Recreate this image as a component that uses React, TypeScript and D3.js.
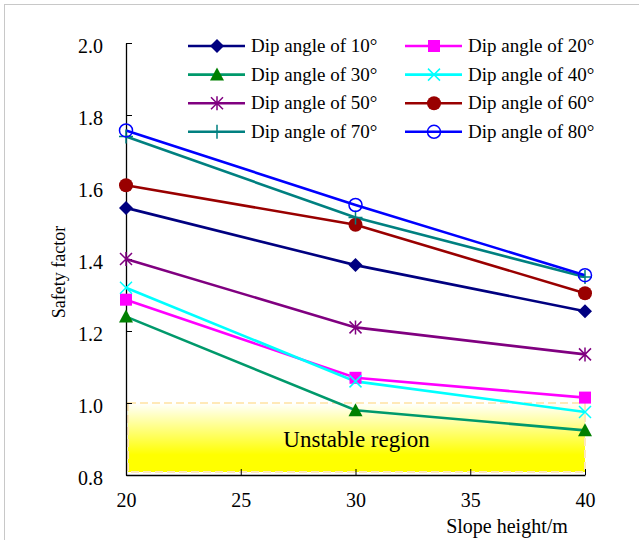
import * as d3 from 'd3'
import { useEffect, useRef } from 'react'

// slope heights (m)
const heights = [20, 30, 40]
const xTicks = [20, 25, 30, 35, 40]
const yTicks = [0.8, 1.0, 1.2, 1.4, 1.6, 1.8, 2.0]

const dip10 = [1.542, 1.383, 1.255]
const dip20 = [1.287, 1.07, 1.015]
const dip30 = [1.24, 0.98, 0.924]
const dip40 = [1.32, 1.06, 0.975]
const dip50 = [1.4, 1.21, 1.135]
const dip60 = [1.605, 1.495, 1.305]
const dip70 = [1.74, 1.515, 1.35]
const dip80 = [1.757, 1.55, 1.355]

const labels = [
  'Dip angle of 10°',
  'Dip angle of 20°',
  'Dip angle of 30°',
  'Dip angle of 40°',
  'Dip angle of 50°',
  'Dip angle of 60°',
  'Dip angle of 70°',
  'Dip angle of 80°',
]

type Series = { name: string; values: number[]; line: string; mark: string; shape: string }

const series: Series[] = [
  { name: labels[0], values: dip10, line: '#000080', mark: '#000080', shape: 'diamond' },
  { name: labels[1], values: dip20, line: '#FF00FF', mark: '#FF00FF', shape: 'square' },
  { name: labels[2], values: dip30, line: '#00996B', mark: '#008000', shape: 'triangle' },
  { name: labels[3], values: dip40, line: '#00FFFF', mark: '#00FFFF', shape: 'x' },
  { name: labels[4], values: dip50, line: '#800080', mark: '#800080', shape: 'star' },
  { name: labels[5], values: dip60, line: '#990000', mark: '#990000', shape: 'circle' },
  { name: labels[6], values: dip70, line: '#008080', mark: '#008080', shape: 'plus' },
  { name: labels[7], values: dip80, line: '#0000FF', mark: '#0000FF', shape: 'ring' },
]

const FONT = "'Liberation Serif', 'Times New Roman', Times, serif"

const drawMarker = (g: any, shape: string, cx: number, cy: number, color: string) => {
  const m = g.append('g').attr('transform', `translate(${cx},${cy})`)
  if (shape === 'diamond') {
    m.append('path').attr('d', 'M0,-7L7,0L0,7L-7,0Z').attr('fill', color)
  } else if (shape === 'square') {
    m.append('rect').attr('x', -6).attr('y', -6).attr('width', 12).attr('height', 12).attr('fill', color)
  } else if (shape === 'triangle') {
    m.append('path').attr('d', 'M0,-7L7,6L-7,6Z').attr('fill', color)
  } else if (shape === 'circle') {
    m.append('circle').attr('r', 7).attr('fill', color)
  } else if (shape === 'ring') {
    m.append('circle').attr('r', 6.5).attr('fill', 'none').attr('stroke', color).attr('stroke-width', 1.5)
  } else if (shape === 'x') {
    m.append('path').attr('d', 'M-6,-6L6,6M-6,6L6,-6').attr('stroke', color).attr('stroke-width', 1.5)
  } else if (shape === 'star') {
    m.append('path')
      .attr('d', 'M-6,-6L6,6M-6,6L6,-6M0,-7L0,7')
      .attr('stroke', color)
      .attr('stroke-width', 1.5)
  } else if (shape === 'plus') {
    m.append('path').attr('d', 'M0,-7L0,7M-7,0L7,0').attr('stroke', color).attr('stroke-width', 1.5)
  }
}

const App = () => {
  const ref = useRef<SVGSVGElement>(null)

  useEffect(() => {
    document.body.style.margin = '0'
    const svg = d3.select(ref.current)
    svg.selectAll('*').remove()

    const x = d3.scaleLinear().domain([20, 40]).range([126, 585])
    const y = d3.scaleLinear().domain([0.8, 2.0]).range([475, 43])

    // outer frame
    svg
      .append('rect')
      .attr('x', 4.5)
      .attr('y', 4.5)
      .attr('width', 700)
      .attr('height', 600)
      .attr('fill', 'none')
      .attr('stroke', '#c8c8c8')

    // unstable region
    const defs = svg.append('defs')
    const grad = defs
      .append('linearGradient')
      .attr('id', 'unstable')
      .attr('x1', 0)
      .attr('y1', 0)
      .attr('x2', 0)
      .attr('y2', 1)
    grad.append('stop').attr('offset', '0%').attr('stop-color', '#FFFFFF')
    grad.append('stop').attr('offset', '75%').attr('stop-color', '#FFFF00')
    grad.append('stop').attr('offset', '100%').attr('stop-color', '#FFFF00')

    svg
      .append('rect')
      .attr('x', x(20) + 2)
      .attr('y', y(1.0))
      .attr('width', x(40) - x(20) - 2)
      .attr('height', y(0.8) - y(1.0) - 3)
      .attr('fill', 'url(#unstable)')
      .attr('stroke', '#FFE9B8')
      .attr('stroke-width', 2)
      .attr('stroke-dasharray', '8,4')

    svg
      .append('text')
      .attr('x', x(30) + 1)
      .attr('y', y(0.9) + 8)
      .attr('text-anchor', 'middle')
      .attr('font-family', FONT)
      .attr('font-size', 23)
      .text('Unstable region')

    // axes
    const xAxis = svg
      .append('g')
      .attr('transform', `translate(0,${y(0.8)})`)
      .call(d3.axisBottom(x).tickValues(xTicks).tickSizeInner(-6).tickSizeOuter(0).tickPadding(18))
    const yAxis = svg
      .append('g')
      .attr('transform', `translate(${x(20)},0)`)
      .call(
        d3
          .axisLeft(y)
          .tickValues(yTicks)
          .tickSizeInner(-6)
          .tickSizeOuter(0)
          .tickPadding(23)
          .tickFormat(d3.format('.1f'))
      )
    ;[xAxis, yAxis].forEach((a) => {
      a.attr('font-family', FONT).attr('font-size', 20)
      a.select('.domain').attr('stroke', '#000').attr('stroke-width', 1.3)
      a.selectAll('.tick line').attr('stroke', '#000')
      a.selectAll('text').attr('fill', '#000')
    })
    yAxis.selectAll('text').attr('dy', '0.45em')

    svg
      .append('text')
      .attr('transform', `translate(65,272) rotate(-90)`)
      .attr('text-anchor', 'middle')
      .attr('font-family', FONT)
      .attr('font-size', 18)
      .text('Safety factor')

    svg
      .append('text')
      .attr('x', 507)
      .attr('y', 533)
      .attr('text-anchor', 'middle')
      .attr('font-family', FONT)
      .attr('font-size', 20)
      .text('Slope height/m')

    // series
    const line = d3
      .line<number>()
      .x((_, i) => x(heights[i]))
      .y((d) => y(d))

    series.forEach((s) => {
      svg
        .append('path')
        .datum(s.values)
        .attr('d', line)
        .attr('fill', 'none')
        .attr('stroke', s.line)
        .attr('stroke-width', 2.6)
    })
    series.forEach((s) => {
      const g = svg.append('g')
      s.values.forEach((v, i) => drawMarker(g, s.shape, x(heights[i]), y(v), s.mark))
    })

    // legend
    const legend = svg.append('g')
    series.forEach((s, i) => {
      const col = i % 2
      const row = Math.floor(i / 2)
      const lx = col === 0 ? 188 : 405
      const ly = 46 + row * 28.6
      legend
        .append('line')
        .attr('x1', lx)
        .attr('x2', lx + 57)
        .attr('y1', ly)
        .attr('y2', ly)
        .attr('stroke', s.line)
        .attr('stroke-width', 2.6)
      drawMarker(legend, s.shape, lx + 29, ly, s.mark)
      legend
        .append('text')
        .attr('x', lx + 63)
        .attr('y', ly + 6)
        .attr('font-family', FONT)
        .attr('font-size', 19)
        .text(s.name)
    })
  }, [])

  return <svg ref={ref} width={639} height={540} style={{ display: 'block', background: '#fff' }} />
}

export default App
